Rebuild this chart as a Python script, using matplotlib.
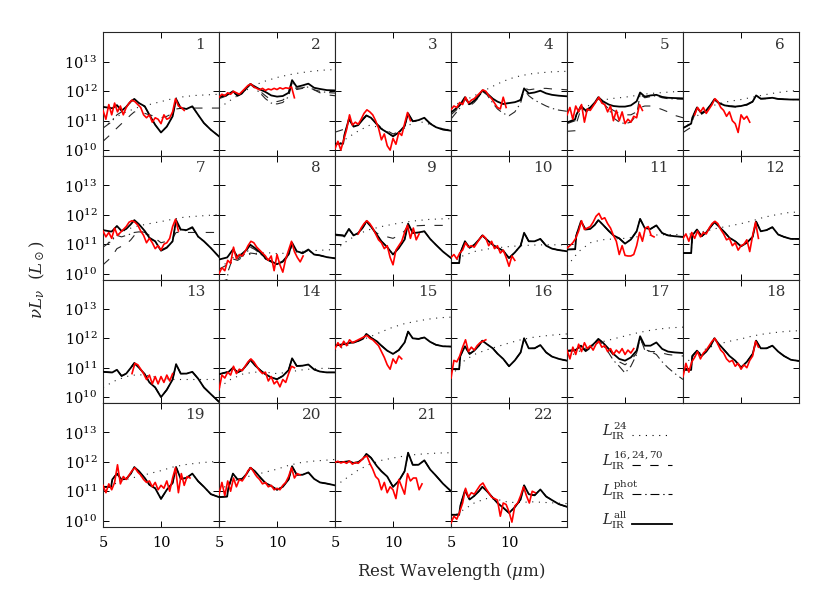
import numpy as np
import matplotlib
matplotlib.use('Agg')
import matplotlib.pyplot as plt
from matplotlib.ticker import NullLocator

plt.rcParams['font.family'] = 'DejaVu Serif'
plt.rcParams['mathtext.fontset'] = 'dejavuserif'

# wavelength grid (micron) of the model curves
WAVE = [5.0, 5.7, 5.8, 6.2, 6.6, 7.0, 7.4, 7.7, 8.1, 8.6, 9.0, 9.5, 10.0,
        10.5, 11.0, 11.3, 11.7, 12.2, 12.7, 13.2, 13.7, 14.3, 15.0]
WAVE_24 = [5, 6, 7, 8, 9, 10, 11, 12, 13, 14, 15]
RED_STEP = 0.25

# log10(nu L_nu) of L_IR^all fit (thick black), one list per panel
L_ALL = [
    [11.47, 11.43, 11.42, 11.53, 11.34, 11.47, 11.66, 11.74, 11.6, 11.49, 11.2, 10.86, 10.6, 10.8, 11.15, 11.74, 11.43, 11.4, 11.49, 11.2, 10.92, 10.69, 10.47],
    [11.81, 11.88, 11.9, 12.0, 11.86, 11.94, 12.12, 12.25, 12.16, 12.05, 11.98, 11.86, 11.82, 11.84, 11.95, 12.38, 12.15, 12.2, 12.26, 12.12, 12.08, 12.04, 12.03],
    [10.22, 10.22, 10.5, 11.06, 10.8, 10.85, 11.05, 11.18, 11.1, 10.88, 10.72, 10.6, 10.47, 10.6, 10.82, 11.25, 10.98, 11.02, 11.1, 10.9, 10.78, 10.7, 10.66],
    [11.28, 11.5, 11.55, 11.8, 11.56, 11.68, 11.85, 12.03, 11.93, 11.75, 11.65, 11.57, 11.6, 11.63, 11.7, 12.1, 11.93, 11.96, 12.02, 11.93, 11.88, 11.85, 11.83],
    [10.94, 11.05, 11.2, 11.5, 11.35, 11.45, 11.62, 11.8, 11.66, 11.55, 11.5, 11.48, 11.48, 11.52, 11.66, 11.96, 11.82, 11.86, 11.88, 11.81, 11.78, 11.77, 11.76],
    [10.75, 10.9, 11.1, 11.45, 11.25, 11.35, 11.55, 11.73, 11.6, 11.52, 11.5, 11.48, 11.5, 11.55, 11.65, 11.86, 11.75, 11.76, 11.78, 11.74, 11.73, 11.72, 11.72],
    [11.48, 11.43, 11.45, 11.62, 11.45, 11.52, 11.68, 11.82, 11.68, 11.45, 11.22, 11.1, 10.78, 10.88, 11.1, 11.82, 11.5, 11.48, 11.58, 11.26, 11.1, 10.87, 10.57],
    [10.48, 10.55, 10.6, 10.82, 10.57, 10.68, 10.82, 10.98, 10.87, 10.7, 10.53, 10.42, 10.32, 10.42, 10.65, 11.05, 10.76, 10.7, 10.82, 10.65, 10.62, 10.56, 10.52],
    [11.33, 11.3, 11.26, 11.52, 11.3, 11.38, 11.58, 11.78, 11.6, 11.33, 11.1, 10.9, 10.65, 10.87, 11.16, 11.7, 11.38, 11.4, 11.44, 11.18, 10.98, 10.75, 10.53],
    [10.36, 10.36, 10.7, 11.1, 10.88, 10.98, 11.15, 11.3, 11.15, 10.98, 10.88, 10.78, 10.53, 10.72, 10.95, 11.39, 11.1, 11.1, 11.18, 10.95, 10.85, 10.8, 10.76],
    [10.82, 10.83, 11.3, 11.78, 11.5, 11.52, 11.66, 11.82, 11.66, 11.45, 11.3, 11.2, 11.02, 11.16, 11.44, 11.86, 11.55, 11.52, 11.64, 11.38, 11.3, 11.27, 11.25],
    [10.7, 10.7, 11.3, 11.5, 11.27, 11.4, 11.6, 11.75, 11.6, 11.4, 11.22, 11.1, 10.93, 11.05, 11.25, 11.77, 11.44, 11.48, 11.58, 11.33, 11.25, 11.18, 11.18],
    [10.86, 10.84, 10.84, 10.93, 10.72, 10.8, 11.0, 11.16, 11.0, 10.78, 10.5, 10.33, 10.0, 10.25, 10.6, 11.12, 10.8, 10.8, 10.86, 10.63, 10.33, 10.1, 9.84],
    [10.78, 10.85, 10.85, 11.0, 10.84, 10.92, 11.1, 11.27, 11.08, 10.9, 10.78, 10.67, 10.61, 10.72, 10.92, 11.32, 11.06, 11.07, 11.11, 10.94, 10.87, 10.84, 10.84],
    [11.75, 11.8, 11.8, 11.84, 11.86, 11.91, 11.98, 12.15, 12.02, 11.9, 11.75, 11.58, 11.47, 11.6, 11.86, 12.23, 12.0, 11.98, 12.03, 11.88, 11.78, 11.73, 11.72],
    [10.95, 10.95, 11.4, 11.73, 11.47, 11.58, 11.75, 11.92, 11.8, 11.66, 11.48, 11.3, 11.05, 11.25, 11.52, 12.0, 11.66, 11.66, 11.77, 11.52, 11.38, 11.3, 11.24],
    [11.58, 11.6, 11.62, 11.75, 11.58, 11.7, 11.85, 11.98, 11.85, 11.64, 11.47, 11.3, 11.24, 11.35, 11.58, 12.07, 11.75, 11.75, 11.86, 11.64, 11.55, 11.52, 11.5],
    [10.93, 10.93, 11.4, 11.58, 11.4, 11.55, 11.76, 12.0, 11.8, 11.58, 11.4, 11.24, 11.01, 11.2, 11.47, 11.92, 11.66, 11.66, 11.75, 11.55, 11.4, 11.27, 11.23],
    [11.15, 11.15, 11.4, 11.6, 11.4, 11.42, 11.6, 11.82, 11.68, 11.45, 11.22, 11.1, 10.74, 11.05, 11.28, 11.82, 11.42, 11.45, 11.6, 11.34, 11.15, 10.9, 10.8],
    [10.8, 10.82, 11.1, 11.6, 11.4, 11.42, 11.6, 11.8, 11.68, 11.45, 11.28, 11.18, 11.05, 11.15, 11.4, 11.85, 11.56, 11.56, 11.64, 11.42, 11.3, 11.26, 11.2],
    [11.99, 11.99, 12.0, 12.02, 11.96, 11.99, 12.1, 12.27, 12.14, 11.86, 11.68, 11.5, 11.15, 11.35, 11.68, 12.31, 11.9, 11.9, 12.05, 11.74, 11.53, 11.26, 11.0],
    [10.2, 10.2, 10.5, 11.03, 10.72, 10.84, 11.0, 11.15, 11.0, 10.78, 10.6, 10.44, 10.26, 10.46, 10.72, 11.2, 10.9, 10.86, 11.06, 10.82, 10.7, 10.56, 10.47],
]

# L_IR^24 fit (dotted), on WAVE_24
L_24 = [
    [10.75, 11.1, 11.3, 11.45, 11.55, 11.65, 11.75, 11.82, 11.86, 11.88, 11.9],
    [11.43, 11.7, 11.95, 12.2, 12.35, 12.47, 12.56, 12.63, 12.68, 12.72, 12.74],
    [10.1, 10.4, 10.65, 10.85, 10.75, 10.5, 10.75, 11.0, 10.9, 10.75, 10.68],
    [11.5, 11.65, 11.85, 12.05, 12.25, 12.42, 12.53, 12.6, 12.64, 12.67, 12.68],
    [10.95, 11.3, 11.55, 11.7, 11.76, 11.8, 11.86, 11.92, 11.95, 11.98, 12.0],
    [10.7, 11.1, 11.4, 11.58, 11.66, 11.72, 11.8, 11.88, 11.95, 12.0, 12.03],
    [10.9, 11.25, 11.5, 11.62, 11.7, 11.77, 11.85, 11.92, 11.95, 11.98, 12.0],
    [10.2, 10.45, 10.6, 10.68, 10.72, 10.68, 10.7, 10.75, 10.78, 10.8, 10.82],
    [10.8, 11.1, 11.35, 11.5, 11.6, 11.68, 11.75, 11.8, 11.84, 11.86, 11.87],
    [10.35, 10.6, 10.75, 10.83, 10.88, 10.92, 10.95, 10.97, 10.98, 10.98, 10.98],
    [10.25, 10.75, 11.05, 11.15, 11.18, 11.2, 11.25, 11.3, 11.32, 11.33, 11.33],
    [11.3, 11.38, 11.45, 11.55, 11.62, 11.7, 11.8, 11.92, 12.0, 12.07, 12.1],
    [10.33, 10.55, 10.7, 10.77, 10.72, 10.65, 10.6, 10.6, 10.6, 10.6, 10.6],
    [10.33, 10.6, 10.78, 10.85, 10.85, 10.8, 10.85, 10.92, 10.96, 10.98, 10.98],
    [11.58, 11.75, 11.9, 12.05, 12.22, 12.38, 12.5, 12.58, 12.65, 12.7, 12.72],
    [10.7, 11.2, 11.45, 11.6, 11.72, 11.84, 11.95, 12.03, 12.08, 12.12, 12.15],
    [11.35, 11.55, 11.75, 11.88, 11.98, 12.08, 12.18, 12.26, 12.32, 12.36, 12.38],
    [11.1, 11.4, 11.65, 11.8, 11.9, 11.98, 12.08, 12.15, 12.2, 12.24, 12.26],
    [11.05, 11.25, 11.4, 11.5, 11.6, 11.7, 11.82, 11.9, 11.95, 11.99, 12.02],
    [11.0, 11.3, 11.45, 11.55, 11.65, 11.75, 11.88, 11.97, 12.02, 12.05, 12.08],
    [11.17, 11.45, 11.72, 11.92, 12.05, 12.13, 12.2, 12.25, 12.28, 12.3, 12.31],
    [10.1, 10.35, 10.6, 10.75, 10.72, 10.62, 10.62, 10.64, 10.62, 10.6, 10.58],
]

# L_IR^16,24,70 fit (dashed); None = lies on top of the L_IR^all curve
L_16 = [None] * 22
L_16[0] = [10.3, 10.55, 10.6, 10.75, 10.9, 11.05, 11.2, 11.3, 11.3, 11.25, 11.2, 11.15, 11.1, 11.15, 11.25, 11.4, 11.42, 11.43, 11.43, 11.43, 11.43, 11.43, 11.43]
L_16[1] = [11.75, 11.85, 11.88, 11.98, 11.84, 11.92, 12.1, 12.24, 12.12, 11.98, 11.85, 11.7, 11.65, 11.7, 11.88, 12.32, 12.1, 12.12, 12.18, 12.05, 11.95, 11.88, 11.85]
L_16[2] = [10.61, 10.7, 10.72, 11.02, 10.82, 10.86, 11.03, 11.15, 11.08, 10.9, 10.76, 10.66, 10.55, 10.62, 10.82, 11.22, 10.98, 11.0, 11.08, 10.92, 10.8, 10.72, 10.68]
L_16[3] = [11.2, 11.45, 11.5, 11.76, 11.54, 11.66, 11.83, 12.02, 11.92, 11.74, 11.64, 11.57, 11.6, 11.63, 11.72, 12.12, 12.05, 12.08, 12.1, 12.1, 12.08, 12.07, 12.05]
L_16[4] = [10.64, 10.66, 10.9, 11.4, 11.3, 11.4, 11.55, 11.75, 11.6, 11.45, 11.35, 11.25, 11.2, 11.2, 11.3, 11.45, 11.5, 11.5, 11.45, 11.38, 11.3, 11.18, 11.1]
L_16[5] = [10.6, 10.78, 11.0, 11.4, 11.22, 11.33, 11.53, 11.72, 11.58, 11.5, 11.48, 11.47, 11.48, 11.53, 11.64, 11.85, 11.74, 11.75, 11.77, 11.74, 11.73, 11.72, 11.72]
L_16[6] = [10.3, 10.55, 10.6, 10.85, 10.93, 11.0, 11.15, 11.3, 11.45, 11.4, 11.3, 11.2, 11.05, 11.1, 11.2, 11.4, 11.4, 11.4, 11.4, 11.4, 11.4, 11.4, 11.4]
L_16[7] = [10.15, 10.3, 10.35, 10.5, 10.45, 10.55, 10.63, 10.7, 10.68, 10.6, 10.5, 10.4, 10.3, 10.4, 10.6, 11.0, 10.74, 10.68, 10.8, 10.66, 10.62, 10.56, 10.52]
L_16[8] = [11.3, 11.28, 11.24, 11.5, 11.3, 11.36, 11.55, 11.74, 11.58, 11.38, 11.3, 11.25, 11.2, 11.3, 11.45, 11.66, 11.62, 11.63, 11.64, 11.64, 11.64, 11.64, 11.64]
L_16[16] = [11.58, 11.6, 11.62, 11.75, 11.58, 11.7, 11.85, 11.98, 11.85, 11.62, 11.42, 11.2, 11.1, 11.25, 11.5, 12.02, 11.62, 11.55, 11.55, 11.5, 11.45, 11.42, 11.4]

# L_IR^phot fit (dash-dot); None = lies on top of the L_IR^all curve
L_PHOT = [None] * 22
L_PHOT[0] = [10.75, 10.95, 11.0, 11.2, 11.3, 11.45, 11.64, 11.73, 11.6, 11.48, 11.2, 10.86, 10.6, 10.8, 11.15, 11.72, 11.42, 11.4, 11.48, 11.2, 10.92, 10.69, 10.47]
L_PHOT[1] = [11.78, 11.86, 11.88, 11.98, 11.84, 11.92, 12.1, 12.24, 12.1, 11.92, 11.75, 11.6, 11.57, 11.62, 11.82, 12.3, 12.06, 12.1, 12.15, 12.05, 12.0, 11.96, 11.94]
L_PHOT[3] = [11.06, 11.4, 11.45, 11.75, 11.5, 11.62, 11.8, 12.0, 11.88, 11.6, 11.4, 11.25, 11.17, 11.3, 11.6, 12.06, 11.85, 11.7, 11.6, 11.5, 11.42, 11.36, 11.32]
L_PHOT[4] = [10.9, 11.0, 11.15, 11.45, 11.3, 11.4, 11.58, 11.78, 11.6, 11.4, 11.1, 10.95, 10.9, 10.95, 11.2, 11.9, 11.78, 11.82, 11.85, 11.78, 11.75, 11.74, 11.73]
L_PHOT[6] = [10.9, 11.1, 11.15, 11.3, 11.25, 11.3, 11.35, 11.4, 11.42, 11.4, 11.2, 11.1, 10.8, 10.9, 11.1, 11.78, 11.48, 11.46, 11.56, 11.25, 11.1, 10.87, 10.57]
L_PHOT[7] = [9.7, 9.8, 10.1, 10.55, 10.5, 10.6, 10.72, 10.9, 10.82, 10.66, 10.5, 10.4, 10.3, 10.4, 10.63, 11.03, 10.75, 10.7, 10.8, 10.65, 10.62, 10.56, 10.52]
L_PHOT[16] = [11.55, 11.58, 11.6, 11.72, 11.55, 11.66, 11.8, 11.95, 11.78, 11.5, 11.25, 11.05, 10.82, 11.05, 11.45, 12.03, 11.6, 11.55, 11.45, 11.2, 11.0, 10.8, 10.6]

# IRS spectra (red): first wavelength and log10 values every RED_STEP micron
RED_START = [5.0, 5.0, 5.0, 5.0, 5.0, 6.0, 5.0, 5.0, 7.0, 5.0, 5.0,
             5.0, 7.5, 5.0, 5.0, 5.0, 5.0, 5.0, 5.0, 5.0, 5.0, 5.0]
RED_SPEC = [
    [11.35, 11.05, 11.55, 11.2, 11.6, 11.3, 11.5, 11.2, 11.45, 11.6, 11.7, 11.65, 11.55, 11.45, 11.2, 11.1, 11.2, 10.95, 11.1, 11.05, 10.9, 11.2, 11.05, 11.1, 11.3, 11.75, 11.5, 11.45, 11.35],
    [11.8, 11.9, 11.85, 11.95, 11.9, 12.0, 11.95, 11.9, 12.0, 12.1, 12.2, 12.25, 12.15, 12.1, 12.05, 12.1, 12.03, 12.08, 12.05, 12.1, 12.06, 12.12, 12.08, 12.12, 12.1, 12.15, 11.78],
    [10.05, 10.3, 10.0, 10.35, 10.7, 11.2, 10.85, 10.95, 10.88, 11.05, 11.25, 11.37, 11.3, 11.2, 11.0, 10.75, 10.35, 10.55, 10.15, 10.0, 10.4, 10.2, 10.6, 10.5, 10.9, 11.28, 11.0],
    [11.38, 11.5, 11.45, 11.62, 11.55, 11.8, 11.6, 11.7, 11.75, 11.85, 11.95, 12.05, 12.0, 11.85, 11.75, 11.6, 11.45, 11.4, 11.8, 11.45],
    [11.2, 11.45, 11.05, 11.5, 11.3, 11.55, 10.95, 11.4, 11.35, 11.5, 11.65, 11.8, 11.6, 11.55, 11.3, 11.5, 11.0, 11.35, 11.0, 11.3, 10.9, 11.05, 10.95, 11.15, 11.1, 11.55, 11.35],
    [11.2, 11.45, 11.3, 11.45, 11.25, 11.4, 11.55, 11.75, 11.65, 11.45, 11.35, 11.15, 11.3, 11.0, 10.9, 10.6, 11.2, 11.05, 11.15, 10.95],
    [11.45, 11.25, 11.4, 11.2, 11.55, 11.3, 11.4, 11.5, 11.6, 11.75, 11.8, 11.75, 11.65, 11.45, 11.3, 11.05, 11.2, 11.05, 10.85, 10.95, 10.8, 11.0, 11.05, 11.2, 11.6, 11.85, 11.45],
    [10.0, 10.2, 10.1, 10.45, 10.35, 10.9, 10.5, 10.65, 10.6, 10.75, 10.95, 11.1, 11.05, 10.9, 10.8, 10.7, 10.6, 10.45, 10.6, 10.1, 10.65, 10.3, 10.05, 10.5, 10.8, 11.1, 10.75, 10.55, 10.4, 10.6],
    [11.35, 11.55, 11.7, 11.8, 11.7, 11.55, 11.35, 11.15, 11.05, 10.85, 10.95, 10.55, 10.3, 10.8, 10.95, 11.1, 11.4, 11.65, 11.2, 11.55, 11.15, 11.35],
    [10.55, 10.65, 10.5, 10.7, 10.8, 11.05, 10.9, 10.95, 10.9, 11.05, 11.2, 11.3, 11.2, 10.95, 11.1, 10.85, 10.95, 10.7, 10.8, 10.55, 10.25, 10.6, 10.45],
    [10.87, 10.95, 11.05, 11.2, 11.45, 11.8, 11.5, 11.55, 11.6, 11.75, 11.95, 12.05, 11.85, 11.9, 11.7, 11.55, 11.3, 11.1, 10.65, 10.95, 10.62, 10.6, 10.6, 10.65, 10.95, 11.4, 11.1, 11.55, 11.6, 11.3, 11.25],
    [11.2, 11.35, 11.1, 11.4, 11.2, 11.45, 11.25, 11.4, 11.35, 11.55, 11.7, 11.78, 11.7, 11.5, 11.35, 11.15, 11.2, 10.95, 11.05, 10.8, 10.95, 11.0, 11.15, 10.75, 11.3, 11.75, 11.2],
    [10.8, 11.15, 11.1, 10.95, 10.8, 10.6, 10.75, 10.45, 10.7, 10.45, 10.7, 10.5, 10.75, 10.55, 10.8],
    [10.25, 10.75, 10.65, 10.85, 10.75, 11.05, 10.8, 10.95, 10.9, 11.05, 11.2, 11.3, 11.2, 11.05, 10.9, 10.8, 10.85, 10.55, 10.7, 10.45, 10.55, 10.35, 10.6, 10.5, 10.8, 11.05, 11.0],
    [11.65, 11.85, 11.7, 11.9, 11.75, 11.95, 11.85, 11.9, 11.95, 12.0, 12.05, 12.1, 12.0, 11.95, 11.85, 11.75, 11.55, 11.35, 11.1, 10.95, 11.3, 11.15, 11.4, 11.3],
    [10.65, 11.25, 11.2, 11.4, 11.7, 11.95, 11.55, 11.7, 11.6, 11.75, 11.85, 11.9, 11.95],
    [11.6, 11.3, 11.7, 11.45, 11.8, 11.55, 11.85, 11.65, 11.75, 11.6, 11.8, 11.9, 11.7, 11.75, 11.55, 11.65, 11.45, 11.6, 11.5, 11.65, 11.45, 11.6, 11.5, 11.65],
    [10.7, 11.15, 10.85, 11.2, 11.35, 11.55, 11.3, 11.5, 11.6, 11.75, 11.9, 12.0, 11.8, 11.6, 11.5, 11.3, 11.2, 11.25, 11.05, 11.15, 10.95, 11.1, 11.0, 11.25, 11.4, 11.9, 11.7],
    [11.2, 10.95, 11.25, 11.05, 11.3, 11.9, 11.25, 11.5, 11.4, 11.55, 11.7, 11.8, 11.65, 11.55, 11.4, 11.3, 11.35, 11.15, 11.3, 11.05, 11.2, 11.1, 11.35, 11.0, 11.45, 11.8, 10.95, 11.6, 11.2, 11.5, 11.45],
    [10.9, 11.3, 10.85, 11.35, 11.0, 11.45, 11.15, 11.4, 11.35, 11.5, 11.7, 11.8, 11.65, 11.5, 11.4, 11.25, 11.3, 11.15, 11.2, 11.05, 11.1, 11.05, 11.2, 11.3, 11.5, 11.8, 11.45, 11.6, 11.55],
    [11.98, 12.02, 11.96, 12.0, 11.95, 12.03, 11.92, 11.98, 11.95, 12.05, 12.15, 12.2, 11.95, 11.75, 11.5, 11.4, 11.05, 11.3, 10.95, 11.15, 11.05, 10.75, 11.4, 11.15, 10.9, 11.6, 11.35, 11.45, 11.45, 11.05, 11.25],
    [9.92, 10.15, 10.05, 10.3, 10.6, 11.1, 10.8, 10.95, 10.9, 11.05, 11.2, 11.28, 11.1, 10.95, 10.8, 10.75, 10.7, 10.15, 10.6, 10.55, 10.3, 9.95, 10.5, 10.6, 10.85, 11.15, 10.85, 10.6, 11.0, 10.95],
]

LEG_LABELS = [r'$L_{\rm IR}^{24}$', r'$L_{\rm IR}^{16,24,70}$',
              r'$L_{\rm IR}^{\rm phot}$', r'$L_{\rm IR}^{\rm all}$']

DOT = (0, (1, 5))
DASH = (0, (7.5, 8.5))
DASHDOT = (0, (8, 3.5, 1.2, 3.5))
THIN = '0.15'

fig, axes = plt.subplots(4, 6, figsize=(8.3, 5.93), dpi=100, sharex=True, sharey=True)
fig.subplots_adjust(left=0.1241, right=0.9627, bottom=0.1121, top=0.9452,
                    wspace=0, hspace=0)

wave = np.array(WAVE)
for i in range(22):
    ax = axes.flat[i]
    ax.plot(WAVE_24, 10 ** np.array(L_24[i]), color=THIN, lw=0.8, ls=DOT, zorder=2)
    d16 = L_16[i] if L_16[i] is not None else L_ALL[i]
    ax.plot(wave, 10 ** np.array(d16), color=THIN, lw=0.8, ls=DASH, zorder=2)
    ph = L_PHOT[i] if L_PHOT[i] is not None else L_ALL[i]
    ax.plot(wave, 10 ** np.array(ph), color=THIN, lw=0.8, ls=DASHDOT, zorder=2)
    ax.plot(wave, 10 ** np.array(L_ALL[i]), color='black', lw=1.3, zorder=3)
    red = np.array(RED_SPEC[i])
    rw = RED_START[i] + RED_STEP * np.arange(len(red))
    ax.plot(rw, 10 ** red, color='red', lw=1.2, zorder=4)
    ax.text(0.88, 0.9, str(i + 1), transform=ax.transAxes, ha='right',
            va='center', fontsize=11, color='0.2')

for ax in axes.flat:
    ax.set_yscale('log')
    ax.tick_params(which='both', direction='in', top=True, right=True,
                   length=4, width=0.7, labelsize=10.5)
    ax.tick_params(axis='x', pad=7)
    ax.tick_params(axis='y', pad=4)
    for s in ax.spines.values():
        s.set_linewidth(0.8)
        s.set_color('0.15')

ax0 = axes[0, 0]
ax0.set_xlim(5, 15)
ax0.set_ylim(10 ** 9.8, 10 ** 14.0)
ax0.set_xticks([5, 10, 15])
ax0.set_xticklabels(['5', '10', ''])
ax0.set_yticks([1e10, 1e11, 1e12, 1e13])
ax0.yaxis.set_minor_locator(NullLocator())
ax0.xaxis.set_minor_locator(NullLocator())

# legend in the empty slots
axes[3, 5].axis('off')
lax = axes[3, 4]
lax.axis('off')
styles = [(DOT, 0.8), (DASH, 0.8), (DASHDOT, 0.8), ('-', 1.3)]
for k, (lab, (ls, lw)) in enumerate(zip(LEG_LABELS, styles)):
    yk = 0.741 - k * 0.2403
    lax.plot([0.56, 0.905], [yk, yk], transform=lax.transAxes, color='black',
             ls=ls, lw=lw, clip_on=False)
    lax.text(0.30, yk + 0.03, lab, transform=lax.transAxes, ha='left',
             va='center', fontsize=10.5, color='0.15')

fig.text(451 / 830, 1 - 571.7 / 593, r'Rest Wavelength ($\mu$m)', ha='center',
         va='center', fontsize=12, color='0.15')
fig.text(37 / 830, 0.528, r'$\nu L_\nu\ \ (L_\odot)$', rotation=90, ha='center',
         va='center', fontsize=12, color='0.15')

fig.savefig('out.png', dpi=100)
